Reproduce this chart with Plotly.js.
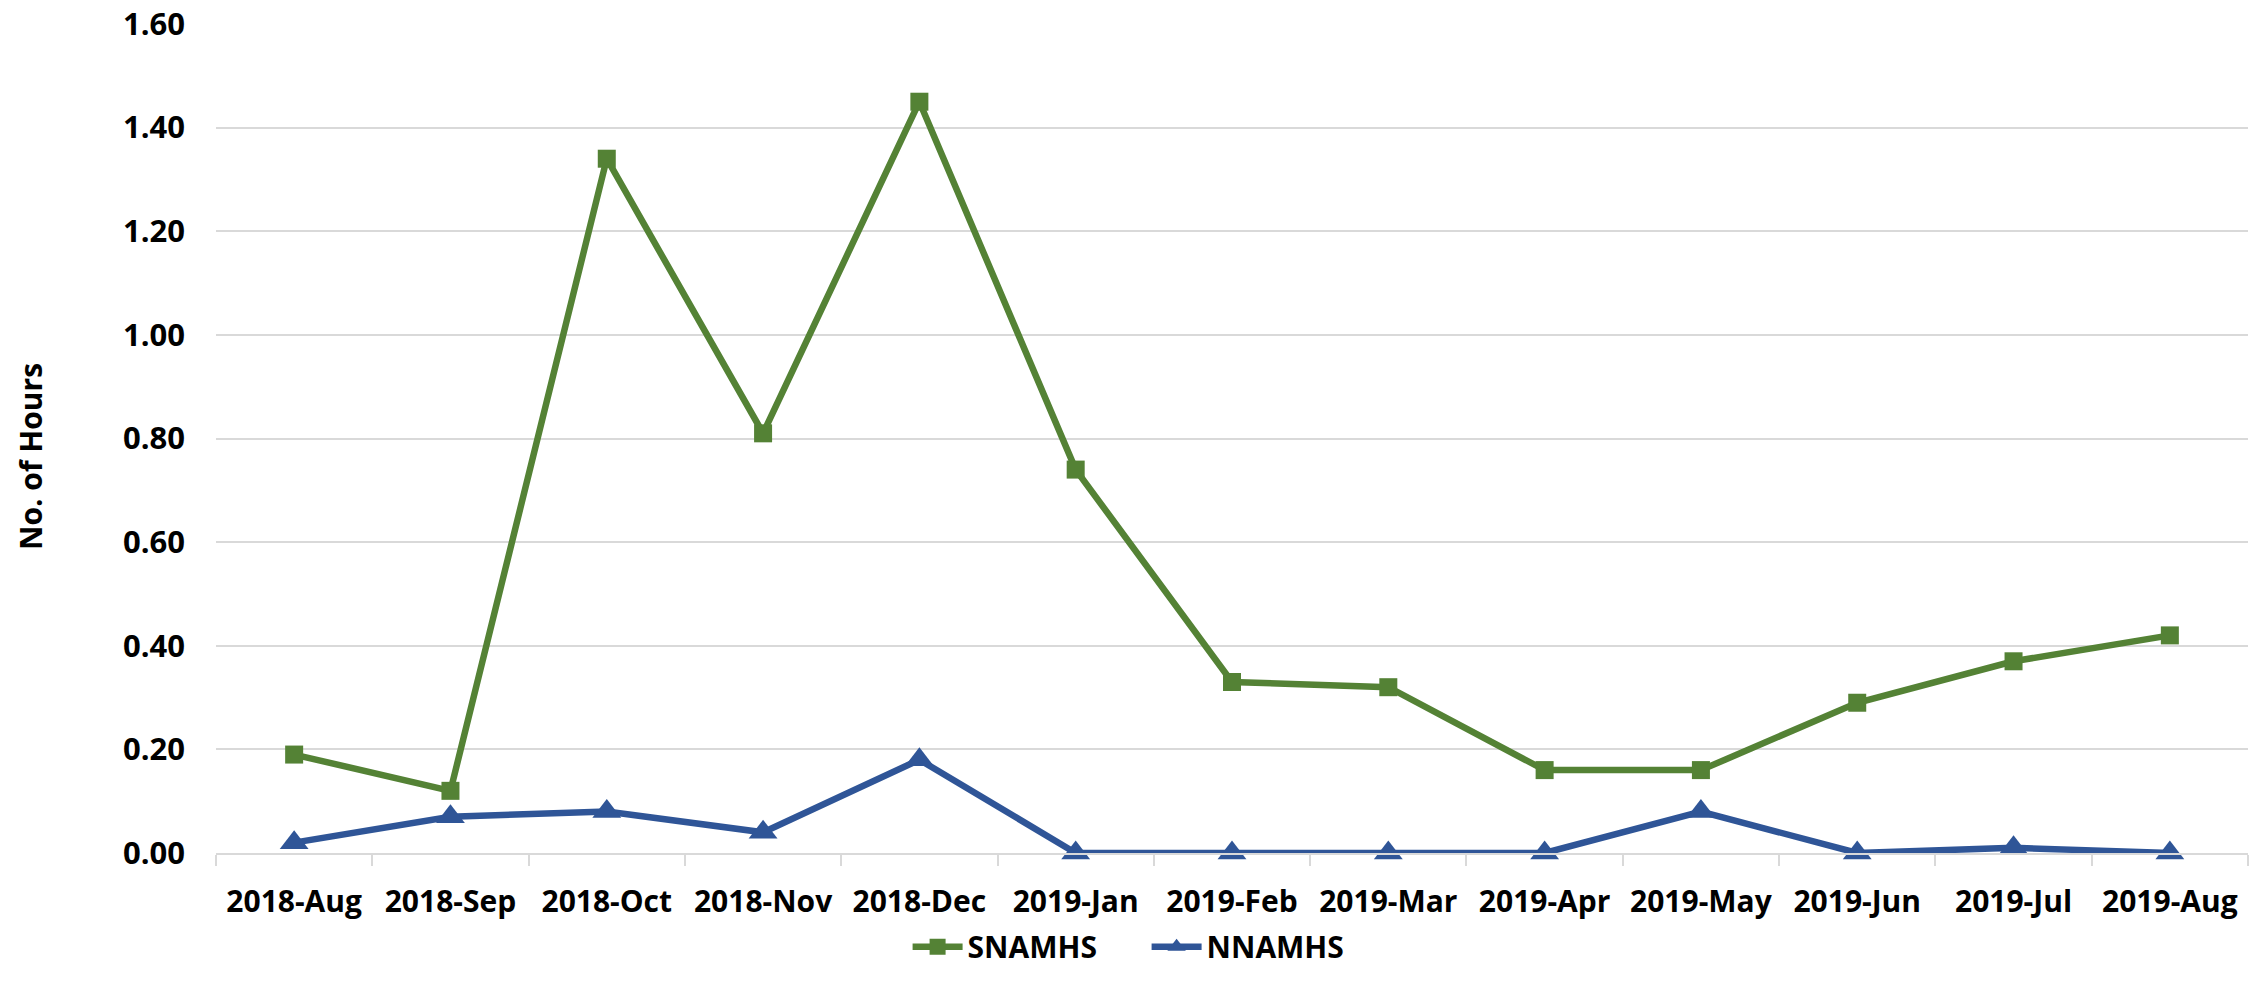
<!DOCTYPE html>
<html>
<head>
<meta charset="utf-8">
<script src="https://cdn.plot.ly/plotly-3.0.1.min.js"></script>
<style>
html,body{margin:0;padding:0;background:#fff;}
#chart{width:2266px;height:1005px;}
</style>
</head>
<body>
<div id="chart"></div>
<script>
const months = ["2018-Aug","2018-Sep","2018-Oct","2018-Nov","2018-Dec","2019-Jan","2019-Feb","2019-Mar","2019-Apr","2019-May","2019-Jun","2019-Jul","2019-Aug"];
const snamhs = [0.19,0.12,1.34,0.81,1.45,0.74,0.33,0.32,0.16,0.16,0.29,0.37,0.42];
const nnamhs = [0.02,0.07,0.08,0.04,0.18,0.00,0.00,0.00,0.00,0.08,0.00,0.01,0.00];
const yTicks = [0,0.2,0.4,0.6,0.8,1.0,1.2,1.4,1.6];

const FONT = "'Open Sans', 'Noto Sans', sans-serif";

const traces = [
  {
    x: months, y: snamhs, name: "SNAMHS", type: "scatter", mode: "lines+markers",
    cliponaxis: false,
    line: {color: "#548235", width: 6.5},
    marker: {symbol: "square", size: 18, color: "#548235"}
  },
  {
    x: months, y: nnamhs, name: "NNAMHS", type: "scatter", mode: "lines+markers",
    cliponaxis: false,
    line: {color: "#2F5597", width: 6.5},
    marker: {symbol: "triangle-up", size: 25, color: "#2F5597"}
  }
];

const layout = {
  width: 2266, height: 1005,
  paper_bgcolor: "#ffffff", plot_bgcolor: "#ffffff",
  margin: {l: 216, r: 18, t: 24, b: 152},
  font: {family: FONT, size: 30, color: "#000000", weight: 700},
  showlegend: true,
  legend: {
    orientation: "h", xref: "container", yref: "container",
    x: 0.506, xanchor: "center", y: 0.058, yanchor: "middle",
    font: {family: FONT, size: 30, color: "#000", weight: 700},
    itemwidth: 50, tracegroupgap: 0, entrywidth: 174, entrywidthmode: "pixels"
  },
  xaxis: {
    type: "category", tickvals: months, ticktext: months,
    range: [-0.5, months.length - 0.5],
    showgrid: false, zeroline: false,
    showline: true, linecolor: "#D9D9D9", linewidth: 2,
    ticks: "outside", tickson: "boundaries", ticklen: 11, tickwidth: 2, tickcolor: "#D9D9D9",
    tickangle: 0, automargin: false,
    tickfont: {family: FONT, size: 30, color: "#000", weight: 700},
    ticklabelstandoff: 21,
    fixedrange: true
  },
  yaxis: {
    range: [0, 1.6], tickvals: yTicks, ticktext: yTicks.map(v => v.toFixed(2)),
    showgrid: true, gridcolor: "#D9D9D9", gridwidth: 2,
    zeroline: false, showline: false, ticks: "", automargin: false,
    tickfont: {family: FONT, size: 31, color: "#000", weight: 700},
    ticklabelstandoff: 30,
    fixedrange: true
  },
  annotations: [{
    text: "No. of Hours", xref: "paper", yref: "paper",
    x: (30 - 216) / 2032, y: (853 - 457) / 829,
    xanchor: "center", yanchor: "middle", textangle: -90, showarrow: false,
    font: {family: FONT, size: 30, color: "#000", weight: 700}
  }]
};

Plotly.newPlot("chart", traces, layout, {displayModeBar: false, staticPlot: true});
</script>
</body>
</html>
